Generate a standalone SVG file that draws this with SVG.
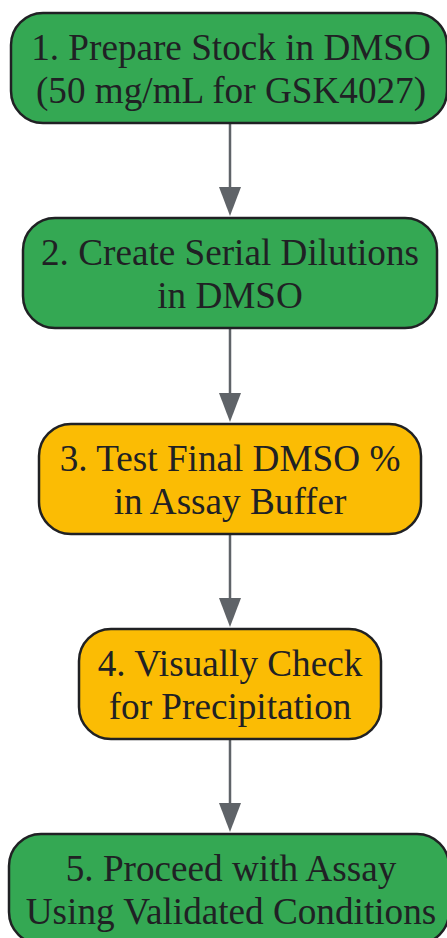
<svg xmlns="http://www.w3.org/2000/svg" width="447" height="938" viewBox="0 0 447 938">
<defs>
<style>
.n rect{stroke:#202124;stroke-width:2.5}
.g rect{fill:#34a853}
.y rect{fill:#fbbc04}
.n text{font-family:"Liberation Serif","Times New Roman",serif;font-size:37.2px;fill:#202124;text-anchor:middle}
.e line{stroke:#5f6368;stroke-width:2.5}
.e polygon{fill:#5f6368}
</style>
</defs>
<rect width="447" height="938" fill="#ffffff"/>
<g class="e" id="connectors">
<line x1="230" y1="123" x2="230" y2="190"/><polygon points="219,187 241,187 230,216"/>
<line x1="230" y1="328" x2="230" y2="396"/><polygon points="219,393 241,393 230,422"/>
<line x1="230" y1="534" x2="230" y2="601"/><polygon points="219,598 241,598 230,627"/>
<line x1="230" y1="739" x2="230" y2="806"/><polygon points="219,803 241,803 230,832"/>
</g>
<g class="n g" id="node1">
<rect x="11" y="13" width="436" height="110" rx="32"/>
<text x="231" y="60">1. Prepare Stock in DMSO</text>
<text x="231" y="103">(50 mg/mL for GSK4027)</text>
</g>
<g class="n g" id="node2">
<rect x="23" y="218" width="414" height="110" rx="32"/>
<text x="230" y="265">2. Create Serial Dilutions</text>
<text x="230" y="308">in DMSO</text>
</g>
<g class="n y" id="node3">
<rect x="39" y="424" width="382" height="110" rx="32"/>
<text x="230" y="471">3. Test Final DMSO %</text>
<text x="230" y="514">in Assay Buffer</text>
</g>
<g class="n y" id="node4">
<rect x="79" y="629" width="302" height="110" rx="32"/>
<text x="230" y="676">4. Visually Check</text>
<text x="230" y="719">for Precipitation</text>
</g>
<g class="n g" id="node5">
<rect x="9" y="834" width="440" height="110" rx="32"/>
<text x="231" y="881">5. Proceed with Assay</text>
<text x="231" y="924">Using Validated Conditions</text>
</g>
</svg>
